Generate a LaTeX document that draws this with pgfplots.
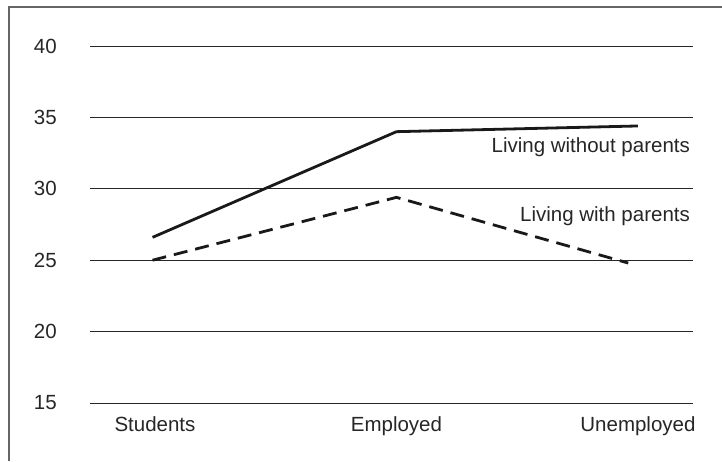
\documentclass[border=0pt]{standalone}
\usepackage{fontspec}
\setmainfont{Liberation Sans}
\usepackage{pgfplots}
\pgfplotsset{compat=1.18}
\begin{document}
\begin{tikzpicture}[x=1pt,y=1pt]
\useasboundingbox (0,0) rectangle (722,461);
\draw[line width=1.2pt, black!60] (9,0) -- (9,454) -- (722,454);
\begin{axis}[
  at={(90pt,58pt)}, anchor=south west,
  scale only axis, width=603pt, height=357pt,
  xmin=-0.269, xmax=2.228, ymin=15, ymax=40,
  axis line style={draw=none},
  major tick length=0pt,
  xtick={0,1,2}, xticklabels={Students,Employed,Unemployed},
  ytick={15,20,25,30,35,40},
  ymajorgrids, grid style={black!85, line width=0.9pt},
  /pgf/number format/assume math mode=true,
  tick label style={font=\fontsize{20.5pt}{24pt}\selectfont, text=black!85, inner sep=0pt},
  xticklabel style={anchor=north, yshift=-13pt},
  yticklabel style={anchor=east, xshift=-33pt},
  clip=false,
]
\addplot[black!90, line width=2.8pt] coordinates {(-0.01,26.6) (1,34.0) (2,34.4)};
\addplot[black!90, line width=2.8pt, dash pattern=on 14pt off 8pt] coordinates {(-0.01,25.0) (1,29.4) (1.96,24.8)};
\node[anchor=base east, inner sep=0pt, font=\fontsize{20.5pt}{24pt}\selectfont, text=black!85] at (axis cs:2.216,32.55) {Living without parents};
\node[anchor=base east, inner sep=0pt, font=\fontsize{20.5pt}{24pt}\selectfont, text=black!85] at (axis cs:2.216,27.69) {Living with parents};
\end{axis}
\end{tikzpicture}
\end{document}
